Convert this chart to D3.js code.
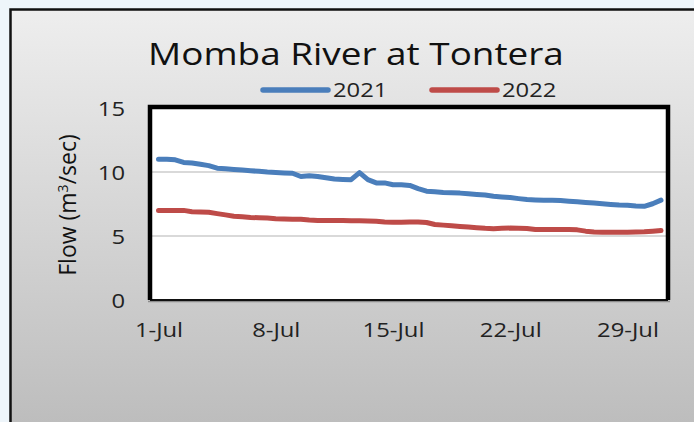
<!DOCTYPE html>
<html>
<head>
<meta charset="utf-8">
<script src="https://cdn.jsdelivr.net/npm/d3@7"></script>
<style>
  html, body { margin: 0; padding: 0; background: #eef5fa; }
  svg { display: block; }
</style>
</head>
<body>
<svg id="chart" width="694" height="422"></svg>
<script>
// half-day readings, starting 1-Jul 00:00
const startDate = new Date(2022, 6, 1);
const flow2021 = [
  11.0, 11.0, 10.95, 10.75, 10.7, 10.6, 10.5, 10.3, 10.25, 10.2,
  10.15, 10.1, 10.05, 10.0, 9.97, 9.93, 9.9, 9.65, 9.7, 9.65,
  9.55, 9.45, 9.42, 9.4, 9.95, 9.4, 9.15, 9.15, 9.0, 9.0,
  8.95, 8.7, 8.5, 8.45, 8.4, 8.38, 8.35, 8.3, 8.25, 8.2,
  8.1, 8.05, 8.0, 7.92, 7.85, 7.82, 7.8, 7.8, 7.77, 7.72,
  7.67, 7.62, 7.57, 7.52, 7.47, 7.42, 7.4, 7.35, 7.32, 7.52,
  7.8
];
const flow2022 = [
  7.0, 7.0, 7.0, 7.0, 6.9, 6.88, 6.85, 6.75, 6.65, 6.55,
  6.5, 6.45, 6.42, 6.4, 6.35, 6.33, 6.3, 6.3, 6.25, 6.22,
  6.22, 6.22, 6.22, 6.2, 6.2, 6.18, 6.15, 6.1, 6.08, 6.08,
  6.1, 6.1, 6.05, 5.9, 5.85, 5.8, 5.75, 5.7, 5.65, 5.6,
  5.57, 5.6, 5.62, 5.6, 5.58, 5.5, 5.5, 5.5, 5.5, 5.5,
  5.48, 5.38, 5.32, 5.3, 5.3, 5.3, 5.3, 5.32, 5.33, 5.38,
  5.43
];
const seriesNames = ["2021", "2022"];
const seriesColors = ["#4a7ebb", "#be4b48"];
const yTicks = [0, 5, 10, 15];
const xTickDays = [1, 8, 15, 22, 29];

const SX = 1.19; // glyphs in the picture are drawn wide
const font = "'Open Sans', 'DejaVu Sans', sans-serif";

const svg = d3.select("#chart");

const defs = svg.append("defs");
const grad = defs.append("linearGradient")
  .attr("id", "panel").attr("x1", 0).attr("y1", 0).attr("x2", 0).attr("y2", 1);
grad.append("stop").attr("offset", "0%").attr("stop-color", "#eeeeee");
grad.append("stop").attr("offset", "100%").attr("stop-color", "#bbbbbb");

// outer panel
svg.append("rect")
  .attr("x", 10.5).attr("y", 9.5).attr("width", 700).attr("height", 430)
  .attr("fill", "url(#panel)")
  .attr("stroke", "#111").attr("stroke-width", 2.5);

const plot = { left: 150, right: 668, top: 107, bottom: 300 };

const x = d3.scaleTime()
  .domain([startDate, new Date(2022, 6, 31)])
  .range([158.5, 661]);

const y = d3.scaleLinear()
  .domain([0, 15])
  .range([plot.bottom, 108]);

// plot background
svg.append("rect")
  .attr("x", plot.left).attr("y", plot.top)
  .attr("width", plot.right - plot.left).attr("height", plot.bottom - plot.top)
  .attr("fill", "#fff");

// gridlines
svg.append("g")
  .selectAll("line")
  .data(yTicks.filter(d => d > 0 && d < 15))
  .join("line")
  .attr("x1", plot.left).attr("x2", plot.right)
  .attr("y1", d => y(d)).attr("y2", d => y(d))
  .attr("stroke", "#d9d9d9").attr("stroke-width", 2);

// frame
svg.append("line")
  .attr("x1", plot.left - 2).attr("x2", plot.right + 2)
  .attr("y1", plot.bottom + 1.5).attr("y2", plot.bottom + 1.5)
  .attr("stroke", "#8c8c8c").attr("stroke-width", 1.5);
svg.append("line")
  .attr("x1", plot.left).attr("x2", plot.right)
  .attr("y1", plot.bottom).attr("y2", plot.bottom)
  .attr("stroke", "#111").attr("stroke-width", 2);
svg.append("path")
  .attr("d", `M${plot.left},${plot.bottom}V${plot.top}H${plot.right}V${plot.bottom}`)
  .attr("fill", "none")
  .attr("stroke", "#000").attr("stroke-width", 4.5);

function stretch(sel) {
  sel.each(function () {
    const t = d3.select(this);
    const tx = +t.attr("x") || 0;
    t.attr("x", tx / SX).attr("transform", `scale(${SX},1)`);
  });
}

// lines
const line = d3.line()
  .x((d, i) => x(d3.timeHour.offset(startDate, i * 12)))
  .y(d => y(d));

svg.append("g")
  .attr("fill", "none")
  .selectAll("path")
  .data([flow2021, flow2022])
  .join("path")
  .attr("d", line)
  .attr("stroke", (d, i) => seriesColors[i])
  .attr("stroke-width", 5)
  .attr("stroke-linejoin", "round")
  .attr("stroke-linecap", "round");

// y axis
const yAxis = svg.append("g")
  .attr("transform", `translate(${plot.left},0)`)
  .call(d3.axisLeft(y).tickValues(yTicks).tickSize(0).tickPadding(25));
yAxis.select(".domain").remove();
yAxis.selectAll("text")
  .attr("font-family", font).attr("font-size", 20).attr("fill", "#222")
  .attr("dy", "0.36em")
  .call(stretch);

// x axis
const xAxis = svg.append("g")
  .attr("transform", `translate(0,${plot.bottom})`)
  .call(d3.axisBottom(x)
    .tickValues(xTickDays.map(d => new Date(2022, 6, d)))
    .tickFormat(d3.timeFormat("%-d-%b"))
    .tickSize(0).tickPadding(23));
xAxis.select(".domain").remove();
xAxis.selectAll("text")
  .attr("font-family", font).attr("font-size", 20).attr("fill", "#222")
  .call(stretch);

// title
svg.append("g")
  .attr("transform", "translate(356,65)")
  .append("text")
  .attr("text-anchor", "middle")
  .attr("font-family", font).attr("font-size", 31).attr("fill", "#111")
  .text("Momba River at Tontera")
  .call(stretch);

// legend
const legendX = [263, 432];
const legend = svg.append("g")
  .selectAll("g")
  .data(seriesNames)
  .join("g")
  .attr("transform", (d, i) => `translate(${legendX[i]},90)`);
legend.append("line")
  .attr("x1", 0).attr("x2", 65)
  .attr("stroke", (d, i) => seriesColors[i])
  .attr("stroke-width", 5.5)
  .attr("stroke-linecap", "round");
legend.append("text")
  .attr("x", 70).attr("y", 7)
  .attr("font-family", font).attr("font-size", 20).attr("fill", "#222")
  .text(d => d)
  .call(stretch);

// y axis title
const yTitle = svg.append("text")
  .attr("transform", "translate(76,205) rotate(-90)")
  .attr("text-anchor", "middle")
  .attr("font-family", font).attr("font-size", 23).attr("fill", "#111");
yTitle.append("tspan").text("Flow (m");
yTitle.append("tspan").attr("dy", -8).attr("font-size", 14).text("3");
yTitle.append("tspan").attr("dy", 8).text("/sec)");
</script>
</body>
</html>
